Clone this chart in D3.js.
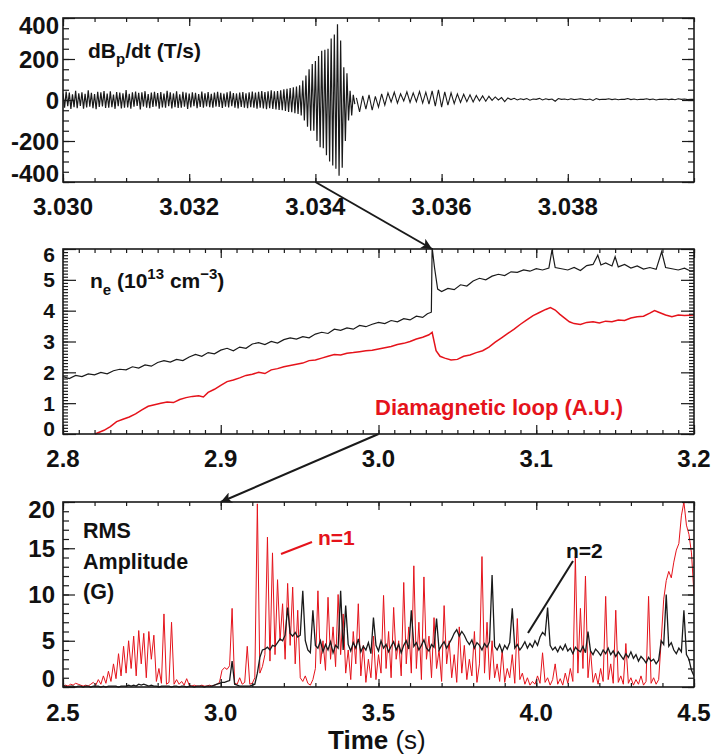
<!DOCTYPE html>
<html>
<head>
<meta charset="utf-8">
<script src="https://cdn.jsdelivr.net/npm/d3@7"></script>
<style>
  body { margin: 0; background: #fff; }
  svg text { font-family: "Liberation Sans", Arial, sans-serif; font-weight: bold; fill: #111; }
</style>
</head>
<body>
<div id="wrapper"></div>
<script>
// ---- panel 1: dBp/dt (T/s), sampled signal
const dbdtFastStart = 3.030, dbdtFastStep = 0.000025;
const dbdtFast = [
  32,-38,41,-30,36,-44,28,-35,45,-40,33,-29,38,-42,30,-36,47,-33,35,-40,
  29,-45,40,-34,37,-31,44,-39,31,-37,42,-35,27,-43,39,-30,36,-41,33,-38,
  48,-36,30,-42,37,-33,41,-29,35,-46,38,-32,43,-37,29,-40,36,-34,40,-31,
  34,-43,39,-36,31,-38,45,-30,37,-41,32,-35,42,-39,28,-37,40,-33,36,-44,
  31,-36,38,-30,35,-40,29,-34,41,-37,33,-31,39,-35,30,-38,36,-32,40,-34,
  35,-39,31,-33,37,-36,42,-30,34,-38,32,-41,36,-34,39,-37,33,-40,38,-35,
  41,-38,36,-42,40,-37,44,-41,39,-45,43,-40,47,-44,42,-46,44,-48,47,-50,
  52,-54,55,-58,58,-60,62,-64,66,-68,
  72,-75,95,-100,120,-130,150,-150,175,-150,190,-200,215,-230,240,-235,245,-270,
  250,-300,300,-320,320,-335,370,-370,290,-330,160,-200,130,-100,45,-75,25,-20
];
const dbdtSlowStart = 3.03465, dbdtSlowStep = 0.00005;
const dbdtSlow = [
  10,-58,20,-45,25,-50,18,-35,30,-25,
  35,-10,38,-15,30,-5,40,-12,35,-8,
  42,-15,38,-20,45,-30,50,-35,40,-25,
  35,-18,30,-12,28,-8,25,-10,22,-5,
  20,-6,18,-2,15,0,12,-8,10,2,
  8,0,6,2,7,-1,5,3,8,0,
  6,2,5,-6,7,3,5,1,6,2,
  4,6,3,1,5,-2,7,2,4,3,
  6,2,5,1,4,3,7,2,5,1,
  4,3,6,2,5,0,4,3,5,2,
  4,1,6,3,5,2,4,3
];
const p1XTicks = [3.030, 3.032, 3.034, 3.036, 3.038];
const p1XLabels = ["3.030", "3.032", "3.034", "3.036", "3.038"];
const p1YTicks = [-400, -200, 0, 200, 400];
const p1YLabels = ["-400", "-200", "0", "200", "400"];

// ---- panel 2: density (black) and diamagnetic loop (red), [time, value]
const neData = [
  [2.800,1.86],[2.804,1.80],[2.808,1.90],[2.812,1.86],[2.816,1.95],[2.820,1.92],[2.824,2.00],[2.828,1.95],
  [2.832,2.05],[2.836,2.10],[2.840,2.08],[2.844,2.18],[2.848,2.14],[2.852,2.24],[2.856,2.20],[2.860,2.32],
  [2.864,2.38],[2.868,2.33],[2.872,2.42],[2.876,2.38],[2.880,2.50],[2.884,2.58],[2.888,2.52],[2.892,2.64],
  [2.896,2.60],[2.900,2.72],[2.904,2.78],[2.908,2.70],[2.912,2.82],[2.916,2.78],[2.920,2.92],[2.924,2.96],
  [2.928,2.90],[2.932,3.00],[2.936,2.95],[2.940,3.06],[2.944,3.12],[2.948,3.08],[2.952,3.16],[2.956,3.12],
  [2.960,3.24],[2.964,3.30],[2.968,3.26],[2.972,3.40],[2.976,3.36],[2.980,3.44],[2.984,3.40],[2.988,3.52],
  [2.992,3.48],[2.996,3.56],[3.000,3.62],[3.004,3.58],[3.008,3.68],[3.012,3.64],[3.016,3.74],[3.020,3.70],
  [3.024,3.82],[3.028,3.78],[3.031,3.90],[3.0335,3.95],[3.0340,6.05],[3.0355,5.40],[3.0375,4.70],[3.040,4.62],
  [3.044,4.72],[3.048,4.68],[3.052,4.84],[3.056,4.80],[3.060,4.96],[3.064,5.05],[3.068,5.00],[3.072,5.12],
  [3.076,5.18],[3.080,5.14],[3.084,5.26],[3.088,5.24],[3.092,5.32],[3.096,5.28],[3.100,5.36],[3.104,5.32],
  [3.108,5.38],[3.110,5.97],[3.112,5.40],[3.116,5.36],[3.120,5.32],[3.124,5.40],[3.128,5.30],[3.132,5.46],
  [3.136,5.50],[3.139,5.80],[3.141,5.48],[3.144,5.55],[3.148,5.45],[3.150,5.75],[3.152,5.42],[3.156,5.50],
  [3.160,5.38],[3.164,5.45],[3.168,5.35],[3.172,5.40],[3.176,5.34],[3.1795,5.91],[3.182,5.40],[3.186,5.36],
  [3.190,5.32],[3.194,5.38],[3.198,5.28],[3.200,5.30]
];
const diaData = [
  [2.8203,0.00],[2.826,0.12],[2.830,0.24],[2.834,0.40],[2.838,0.48],[2.842,0.55],[2.846,0.65],[2.850,0.78],
  [2.854,0.90],[2.858,0.95],[2.862,1.00],[2.866,1.04],[2.870,1.02],[2.874,1.12],[2.878,1.18],[2.882,1.22],
  [2.886,1.24],[2.889,1.20],[2.892,1.35],[2.896,1.45],[2.900,1.58],[2.904,1.70],[2.908,1.75],[2.912,1.82],
  [2.916,1.90],[2.920,1.94],[2.924,2.00],[2.928,1.96],[2.932,2.08],[2.936,2.12],[2.940,2.18],[2.944,2.22],
  [2.948,2.26],[2.952,2.30],[2.956,2.38],[2.960,2.40],[2.964,2.46],[2.968,2.52],[2.972,2.58],[2.976,2.56],
  [2.980,2.62],[2.984,2.64],[2.988,2.67],[2.992,2.70],[2.996,2.72],[3.000,2.76],[3.004,2.80],[3.008,2.84],
  [3.012,2.90],[3.016,2.94],[3.020,3.00],[3.024,3.08],[3.028,3.14],[3.032,3.22],[3.034,3.30],[3.0365,2.70],
  [3.039,2.52],[3.042,2.46],[3.046,2.40],[3.050,2.42],[3.054,2.52],[3.058,2.56],[3.062,2.64],[3.066,2.70],
  [3.070,2.82],[3.074,2.98],[3.078,3.12],[3.082,3.26],[3.086,3.40],[3.090,3.56],[3.094,3.70],[3.098,3.84],
  [3.102,3.94],[3.106,4.04],[3.109,4.10],[3.112,4.02],[3.115,3.88],[3.118,3.76],[3.121,3.64],[3.124,3.58],
  [3.128,3.55],[3.132,3.62],[3.136,3.64],[3.140,3.60],[3.144,3.66],[3.148,3.64],[3.152,3.70],[3.156,3.68],
  [3.160,3.76],[3.164,3.80],[3.168,3.82],[3.172,3.92],[3.175,4.00],[3.178,3.94],[3.182,3.86],[3.186,3.80],
  [3.190,3.86],[3.194,3.84],[3.200,3.86]
];
const p2XTicks = [2.8, 2.9, 3.0, 3.1, 3.2];
const p2XLabels = ["2.8", "2.9", "3.0", "3.1", "3.2"];
const p2YTicks = [0, 1, 2, 3, 4, 5, 6];
const p2YLabels = ["0", "1", "2", "3", "4", "5", "6"];

// ---- panel 3: RMS amplitude (G), sampled every 8 ms
const rmsStart = 2.5, rmsStep = 0.008;
const rmsN1 = [
  0.1,0.2,0.1,0.3,0.2,0.4,0.3,0.2,0.1,0.2,
  0.1,0.3,0.5,0.2,0.8,0.3,1.2,0.4,1.7,0.6,
  2.5,0.9,3.6,1.2,4.4,1.5,5.0,2.0,5.5,1.2,
  6.1,2.5,5.8,1.0,6.0,3.0,5.6,0.6,2.0,0.4,
  7.9,0.3,0.5,7.0,0.3,0.8,0.3,0.6,0.2,0.9,
  0.2,0.1,0.2,0.1,0.1,0.2,0.1,0.1,0.2,0.1,
  0.2,0.3,0.5,1.8,2.1,1.9,2.3,8.5,0.4,0.3,
  1.0,0.3,0.5,4.4,0.3,0.4,1.0,19.8,1.5,2.2,
  3.5,16.2,2.8,14.5,3.5,11.6,5.0,9.0,3.0,11.2,
  4.5,10.8,2.5,8.3,1.0,0.6,1.2,0.4,0.2,0.8,
  2.0,10.4,2.5,5.0,1.8,9.7,3.0,6.5,2.2,10.0,
  3.5,7.9,1.5,4.0,0.8,6.0,2.5,9.0,1.2,4.5,
  0.5,3.0,1.0,5.5,0.8,3.5,1.5,9.9,2.0,6.0,
  1.0,8.6,3.0,5.0,1.2,11.3,2.5,6.5,1.5,13.1,
  2.0,7.0,0.8,11.9,3.0,5.5,1.0,7.5,2.0,4.0,
  0.6,8.8,2.5,5.0,1.0,3.5,0.5,6.5,1.5,4.5,
  0.8,3.0,1.2,6.0,0.5,2.5,14.1,1.5,7.0,0.8,
  5.0,1.0,2.5,0.6,4.0,0.5,2.0,1.0,3.5,0.4,
  7.4,0.8,1.5,0.3,1.0,0.2,0.6,0.3,1.2,0.4,
  3.7,0.5,1.0,0.2,0.8,2.5,0.3,0.9,0.2,1.5,
  0.4,2.0,0.6,14.1,1.5,8.5,2.0,12.0,1.0,4.0,
  0.5,1.5,0.3,2.0,0.6,9.8,0.8,2.5,0.4,8.3,
  0.5,1.2,0.3,4.7,0.4,1.0,0.2,0.8,0.3,1.2,
  0.2,0.6,9.8,0.4,1.0,0.3,0.8,5.0,9.5,11.5,
  12.5,11.8,13.5,14.8,15.5,18.5,20.0,17.5,16.5,14.5,10.0
];
const rmsN2 = [
  0.1,0.1,0.0,0.1,0.1,0.0,0.1,0.1,0.0,0.1,
  0.1,0.0,0.1,0.1,0.1,0.0,0.1,0.0,0.1,0.1,
  0.1,0.1,0.0,0.1,0.1,0.1,0.2,0.1,0.2,0.1,
  0.3,0.2,0.3,0.2,0.1,0.2,0.1,0.1,0.0,0.1,
  0.1,0.1,0.1,0.0,0.1,0.1,0.0,0.1,0.1,0.0,
  0.1,0.1,0.0,0.1,0.1,0.1,0.0,0.1,0.1,0.1,
  0.2,0.3,0.4,0.5,0.5,0.6,0.7,2.8,0.3,0.2,
  0.1,0.1,0.1,0.1,0.1,0.2,0.3,1.5,3.2,4.0,
  4.1,4.3,4.0,4.5,4.4,4.8,5.2,5.0,5.6,8.6,
  5.8,5.5,5.9,5.4,5.6,10.4,5.0,4.0,3.7,8.3,
  4.5,4.2,5.0,3.8,4.6,4.0,4.9,3.7,4.5,4.2,
  10.4,4.0,8.8,4.6,3.9,4.8,4.2,5.2,3.8,4.4,
  4.0,4.8,3.6,7.5,4.5,3.9,5.0,4.2,4.6,3.8,
  4.4,4.9,4.0,4.6,3.7,4.5,5.0,4.1,8.3,4.4,
  4.8,4.0,4.5,5.1,4.2,3.9,4.6,4.3,7.4,4.0,
  4.5,4.9,4.2,4.7,5.2,5.8,6.2,5.5,6.0,5.6,
  5.0,4.6,5.1,4.2,4.8,4.5,4.0,4.7,4.3,4.9,
  12.1,4.4,4.0,4.6,3.8,4.5,4.1,4.8,8.5,4.2,
  4.6,4.0,4.4,4.9,4.2,4.7,4.3,5.0,4.5,5.4,
  5.9,5.6,8.6,4.5,4.0,4.3,3.8,4.4,4.0,4.6,
  3.9,4.2,3.6,4.3,4.0,3.8,4.4,3.7,6.0,3.9,
  3.5,4.1,3.8,3.4,4.0,3.6,4.2,3.5,3.9,3.3,
  3.8,3.4,3.0,3.6,3.2,3.8,3.1,3.5,2.8,3.3,
  3.0,2.6,3.2,2.8,3.0,2.5,2.9,5.0,4.6,10.0,
  4.4,4.8,4.0,3.6,4.2,3.8,8.3,3.5,3.0,1.8,1.2
];
const p3XTicks = [2.5, 3.0, 3.5, 4.0, 4.5];
const p3XLabels = ["2.5", "3.0", "3.5", "4.0", "4.5"];
const p3YTicks = [0, 5, 10, 15, 20];
const p3YLabels = ["0", "5", "10", "15", "20"];

const red = "#e5131b";
const ink = "#1a1a1a";

var svg = d3.select("#wrapper").append("svg").attr("width", 716).attr("height", 756);
var defs = svg.append("defs");
defs.append("marker").attr("id", "head").attr("viewBox", "0 0 10 10")
  .attr("refX", 10).attr("refY", 5).attr("markerWidth", 17).attr("markerHeight", 11)
  .attr("markerUnits", "userSpaceOnUse").attr("orient", "auto")
  .append("path").attr("d", "M0,0 L10,5 L0,10 L2.5,5 z").attr("fill", ink);

function tickAxis(g, axisFn, scale, values, len, tx, ty) {
  g.append("g").attr("transform", "translate(" + tx + "," + ty + ")")
    .call(axisFn(scale).tickValues(values).tickSizeInner(-len).tickSizeOuter(0).tickFormat(""))
    .call(a => a.select(".domain").remove())
    .selectAll("line").attr("stroke", ink).attr("stroke-width", 1.2);
}

function makePanel(p) {
  var x = d3.scaleLinear().domain(p.xDomain).range([p.left, p.right]);
  var y = d3.scaleLinear().domain(p.yDomain).range([p.bottom, p.top]);
  var g = svg.append("g");
  defs.append("clipPath").attr("id", "clip" + p.id).append("rect")
    .attr("x", p.left).attr("y", p.top - 1).attr("width", p.right - p.left).attr("height", p.bottom - p.top + 2);
  var plot = g.append("g").attr("clip-path", "url(#clip" + p.id + ")");

  var xMinor = x.ticks(p.xMinorCount), yMinor = y.ticks(p.yMinorCount);
  tickAxis(g, d3.axisBottom, x, xMinor, p.xLen[1], 0, p.bottom);
  tickAxis(g, d3.axisTop, x, xMinor, p.xLen[1], 0, p.top);
  tickAxis(g, d3.axisBottom, x, p.xTicks, p.xLen[0], 0, p.bottom);
  tickAxis(g, d3.axisTop, x, p.xTicks, p.xLen[0], 0, p.top);
  tickAxis(g, d3.axisLeft, y, yMinor, p.yLen[1], p.left, 0);
  tickAxis(g, d3.axisRight, y, yMinor, p.yLen[1], p.right, 0);
  tickAxis(g, d3.axisLeft, y, p.yTicks, p.yLen[0], p.left, 0);
  tickAxis(g, d3.axisRight, y, p.yTicks, p.yLen[0], p.right, 0);

  g.append("rect").attr("x", p.left).attr("y", p.top)
    .attr("width", p.right - p.left).attr("height", p.bottom - p.top)
    .attr("fill", "none").attr("stroke", ink).attr("stroke-width", 1.6);

  p.xTicks.forEach(function(v, i) {
    g.append("text").attr("x", x(v)).attr("y", p.xLabelY).attr("text-anchor", "middle")
      .style("font-size", p.labelSize + "px").text(p.xLabels[i]);
  });
  p.yTicks.forEach(function(v, i) {
    var c = Math.max(p.top + p.edge[0], Math.min(p.bottom - p.edge[1], y(v)));
    g.append("text").attr("x", p.yLabelX).attr("y", c + 0.36 * p.yLabelSize).attr("text-anchor", "end")
      .style("font-size", p.yLabelSize + "px").text(p.yLabels[i]);
  });
  return { x: x, y: y, g: g, plot: plot };
}

// ---- panel 1
var P1 = makePanel({ id: 1, left: 63, right: 694, top: 18, bottom: 182,
  xDomain: [3.030, 3.040], yDomain: [-400, 400], xTicks: p1XTicks, xLabels: p1XLabels,
  yTicks: p1YTicks, yLabels: p1YLabels, xMinorCount: 20, yMinorCount: 16,
  xLen: [8, 4], yLen: [12, 6], xLabelY: 215, yLabelX: 59, labelSize: 24, yLabelSize: 24, edge: [7, 9] });
P1.plot.append("path").datum(dbdtFast)
  .attr("d", d3.line().x((d, i) => P1.x(dbdtFastStart + i * dbdtFastStep)).y(d => P1.y(d)))
  .attr("fill", "none").attr("stroke", ink).attr("stroke-width", 1.2);
P1.plot.append("path").datum(dbdtSlow)
  .attr("d", d3.line().x((d, i) => P1.x(dbdtSlowStart + i * dbdtSlowStep)).y(d => P1.y(d)))
  .attr("fill", "none").attr("stroke", ink).attr("stroke-width", 1.1);
var t1 = svg.append("text").attr("x", 88).attr("y", 58).style("font-size", "21px");
t1.append("tspan").text("dB");
t1.append("tspan").attr("dy", 6).style("font-size", "15px").text("p");
t1.append("tspan").attr("dy", -6).text("/dt (T/s)");

// ---- panel 2
var P2 = makePanel({ id: 2, left: 63, right: 694, top: 249, bottom: 434,
  xDomain: [2.8, 3.2], yDomain: [0, 6], xTicks: p2XTicks, xLabels: p2XLabels,
  yTicks: p2YTicks, yLabels: p2YLabels, xMinorCount: 40, yMinorCount: 60,
  xLen: [9, 4], yLen: [13, 5], xLabelY: 467, yLabelX: 55, labelSize: 24, yLabelSize: 21, edge: [5, 6] });
P2.plot.append("path").datum(diaData)
  .attr("d", d3.line().x(d => P2.x(d[0])).y(d => P2.y(d[1])))
  .attr("fill", "none").attr("stroke", red).attr("stroke-width", 1.5);
P2.plot.append("path").datum(neData)
  .attr("d", d3.line().x(d => P2.x(d[0])).y(d => P2.y(d[1])))
  .attr("fill", "none").attr("stroke", ink).attr("stroke-width", 1.2);
var t2 = svg.append("text").attr("x", 90).attr("y", 288).style("font-size", "21px");
t2.append("tspan").text("n");
t2.append("tspan").attr("dy", 7).style("font-size", "15px").text("e");
t2.append("tspan").attr("dy", -7).text(" (10");
t2.append("tspan").attr("dy", -9).style("font-size", "15px").text("13");
t2.append("tspan").attr("dy", 9).text(" cm");
t2.append("tspan").attr("dy", -9).style("font-size", "15px").text("\u22123");
t2.append("tspan").attr("dy", 9).text(")");
svg.append("text").attr("x", 375).attr("y", 415).style("font-size", "22px").style("fill", red)
  .text("Diamagnetic loop (A.U.)");

// ---- panel 3
var P3 = makePanel({ id: 3, left: 63, right: 694, top: 502, bottom: 687,
  xDomain: [2.5, 4.5], yDomain: [0, 20], xTicks: p3XTicks, xLabels: p3XLabels,
  yTicks: p3YTicks, yLabels: p3YLabels, xMinorCount: 20, yMinorCount: 20,
  xLen: [8, 4], yLen: [12, 6], xLabelY: 721, yLabelX: 55, labelSize: 24, yLabelSize: 24, edge: [7, 9] });
P3.plot.append("path").datum(rmsN1)
  .attr("d", d3.line().x((d, i) => P3.x(rmsStart + i * rmsStep)).y(d => P3.y(d)))
  .attr("fill", "none").attr("stroke", red).attr("stroke-width", 1);
P3.plot.append("path").datum(rmsN2)
  .attr("d", d3.line().x((d, i) => P3.x(rmsStart + i * rmsStep)).y(d => P3.y(d)))
  .attr("fill", "none").attr("stroke", ink).attr("stroke-width", 1.3);
["RMS", "Amplitude", "(G)"].forEach(function(s, i) {
  svg.append("text").attr("x", 83).attr("y", 538 + i * 30.5).style("font-size", "21.5px").text(s);
});
svg.append("line").attr("x1", 281).attr("y1", 554).attr("x2", 312).attr("y2", 542)
  .attr("stroke", red).attr("stroke-width", 2);
svg.append("text").attr("x", 318).attr("y", 545).style("font-size", "21px").style("fill", red).text("n=1");
svg.append("line").attr("x1", 528).attr("y1", 633).attr("x2", 573).attr("y2", 561)
  .attr("stroke", ink).attr("stroke-width", 2);
svg.append("text").attr("x", 566).attr("y", 558).style("font-size", "21px").text("n=2");

var xt = svg.append("text").attr("x", 328).attr("y", 749).style("font-size", "26px");
xt.append("tspan").text("Time ");
xt.append("tspan").style("font-weight", "normal").text("(s)");

// ---- arrows linking the zoomed time windows
svg.append("line").attr("x1", P1.x(3.034)).attr("y1", 182).attr("x2", P2.x(3.034)).attr("y2", 249)
  .attr("stroke", ink).attr("stroke-width", 2).attr("marker-end", "url(#head)");
svg.append("line").attr("x1", P2.x(3.0)).attr("y1", 434).attr("x2", P3.x(3.0)).attr("y2", 502)
  .attr("stroke", ink).attr("stroke-width", 2).attr("marker-end", "url(#head)");
</script>
</body>
</html>
